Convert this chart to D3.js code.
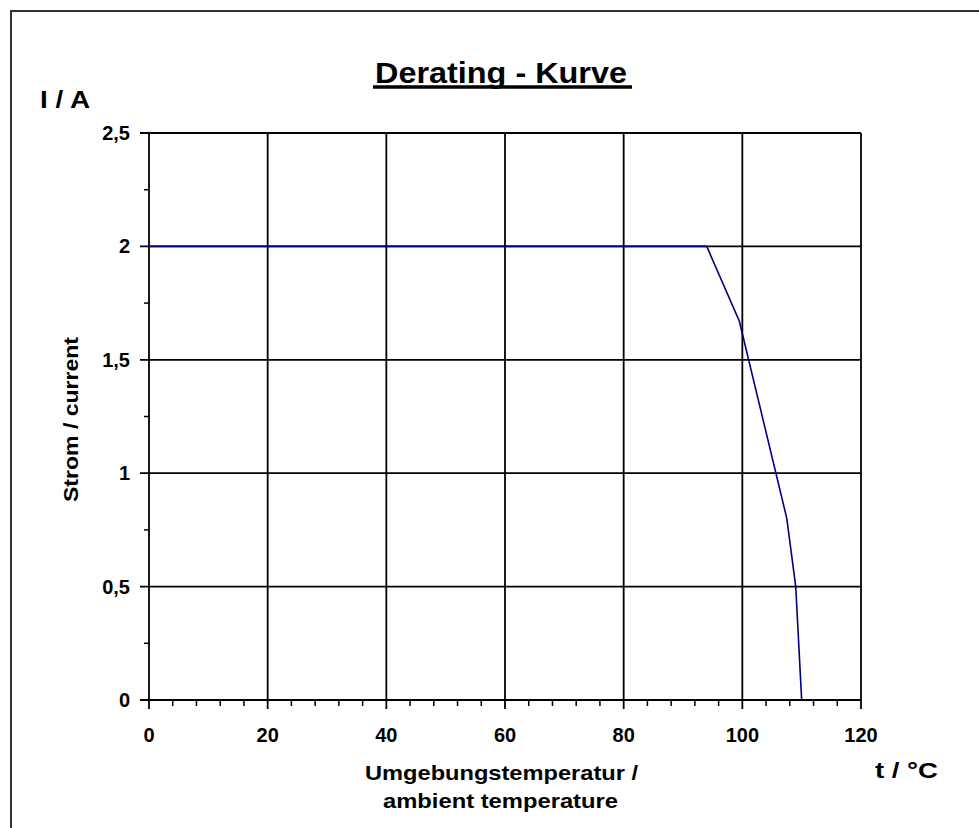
<!DOCTYPE html>
<html><head><meta charset="utf-8">
<script src="https://cdn.jsdelivr.net/npm/d3@7"></script>
<style>body{margin:0;background:#fff}svg{display:block}text{font-family:"Liberation Sans",Arial,sans-serif;font-weight:bold;fill:#000}</style>
</head><body>
<script>
const temps = [0, 94, 99.5, 107.5, 109, 110];
const currents = [2, 2, 1.67, 0.8, 0.5, 0];
const xTicks = [0, 20, 40, 60, 80, 100, 120];
const yTicks = [0, 0.5, 1, 1.5, 2, 2.5];
const yTickLabels = ["0", "0,5", "1", "1,5", "2", "2,5"];

const W = 979, H = 828;
const svg = d3.select("body").append("svg").attr("width", W).attr("height", H);
const L = 149, R = 861, T = 133, B = 700;
const x = d3.scaleLinear().domain([0, 120]).range([L, R]);
const y = d3.scaleLinear().domain([0, 2.5]).range([B, T]);

// outer frame
svg.append("path").attr("d", `M11,${H+5}V11H${W+5}`).attr("fill","none").attr("stroke","#333").attr("stroke-width",2);

// grid
svg.append("g").selectAll("line").data(xTicks).join("line")
  .attr("x1", d => x(d)).attr("x2", d => x(d)).attr("y1", T).attr("y2", B + 9)
  .attr("stroke", "#000").attr("stroke-width", 1.8);
svg.append("g").selectAll("line").data(yTicks).join("line")
  .attr("x1", L - 9).attr("x2", R).attr("y1", d => y(d)).attr("y2", d => y(d))
  .attr("stroke", "#000").attr("stroke-width", 1.8);

// minor ticks
const xMinor = d3.range(0, 121, 4).filter(v => v % 20 !== 0);
svg.append("g").selectAll("line").data(xMinor).join("line")
  .attr("x1", d => x(d)).attr("x2", d => x(d)).attr("y1", B).attr("y2", B + 6)
  .attr("stroke", "#000").attr("stroke-width", 1.5);
const yMinor = [0.25, 0.75, 1.25, 1.75, 2.25];
svg.append("g").selectAll("line").data(yMinor).join("line")
  .attr("x1", L - 5).attr("x2", L).attr("y1", d => y(d)).attr("y2", d => y(d))
  .attr("stroke", "#000").attr("stroke-width", 1.5);

// tick labels
svg.append("g").selectAll("text").data(xTicks).join("text")
  .attr("x", d => x(d)).attr("y", 742).attr("text-anchor", "middle")
  .attr("font-size", 20).text(d => d);
svg.append("g").selectAll("text").data(yTicks).join("text")
  .attr("x", L - 19).attr("y", d => y(d) + 7).attr("text-anchor", "end")
  .attr("font-size", 20).text((d, i) => yTickLabels[i]);

// line
const line = d3.line().x(d => x(d[0])).y(d => y(d[1]));
svg.append("path").datum(temps.map((t, i) => [t, currents[i]]))
  .attr("d", line).attr("fill", "none").attr("stroke", "#000080").attr("stroke-width", 1.6);

// title
svg.append("text").attr("x", 375).attr("y", 83)
  .attr("font-size", 30).attr("textLength", 252).attr("lengthAdjust", "spacingAndGlyphs")
  .text("Derating - Kurve");
svg.append("line").attr("x1", 373).attr("x2", 632).attr("y1", 87).attr("y2", 87)
  .attr("stroke", "#000").attr("stroke-width", 3.5);

// axis labels
svg.append("text").attr("x", 40).attr("y", 108).attr("font-size", 24)
  .attr("textLength", 50).attr("lengthAdjust", "spacingAndGlyphs").text("I / A");
svg.append("text").attr("transform", "translate(78,502) rotate(-90)")
  .attr("font-size", 20).attr("textLength", 165).attr("lengthAdjust", "spacingAndGlyphs")
  .text("Strom / current");
svg.append("text").attr("x", 365).attr("y", 780)
  .attr("font-size", 21).attr("textLength", 273).attr("lengthAdjust", "spacingAndGlyphs")
  .text("Umgebungstemperatur /");
svg.append("text").attr("x", 383).attr("y", 808)
  .attr("font-size", 21).attr("textLength", 235).attr("lengthAdjust", "spacingAndGlyphs")
  .text("ambient temperature");
svg.append("text").attr("x", 875).attr("y", 778)
  .attr("font-size", 22).attr("textLength", 63).attr("lengthAdjust", "spacingAndGlyphs")
  .text("t / °C");
</script>
</body></html>
